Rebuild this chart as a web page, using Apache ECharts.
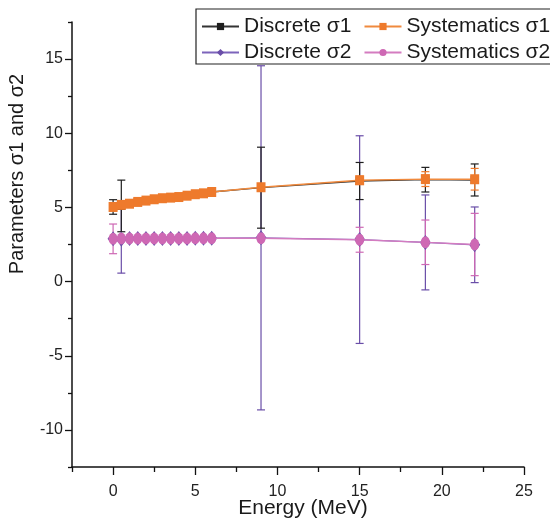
<!DOCTYPE html>
<html>
<head>
<meta charset="utf-8">
<script src="https://cdn.jsdelivr.net/npm/echarts@6/dist/echarts.min.js"></script>
<style>html,body{margin:0;padding:0;background:#fff}#c{width:550px;height:525px}</style>
</head>
<body>
<div id="c"></div>
<script>
const energy = [0, 0.5, 1, 1.5, 2, 2.5, 3, 3.5, 4, 4.5, 5, 5.5, 6, 9, 15, 19, 22];
const discS1 = [5.03, 5.10, 5.25, 5.37, 5.46, 5.55, 5.62, 5.66, 5.70, 5.79, 5.89, 5.95, 6.04, 6.33, 6.78, 6.87, 6.85];
const discS1Err = [0.49, 1.74, 0, 0, 0, 0, 0, 0, 0, 0, 0, 0, 0, 2.73, 1.25, 0.83, 1.08];
const sysS1 = [5.03, 5.17, 5.25, 5.37, 5.46, 5.55, 5.62, 5.66, 5.70, 5.79, 5.89, 5.95, 6.04, 6.36, 6.83, 6.91, 6.90];
const sysS1Err = [0, 0, 0, 0, 0, 0, 0, 0, 0, 0, 0, 0, 0, 0, 0.28, 0.50, 0.73];
const discS2 = [2.88, 2.86, 2.90, 2.90, 2.90, 2.90, 2.90, 2.90, 2.90, 2.91, 2.92, 2.92, 2.92, 2.95, 2.83, 2.64, 2.48];
const discS2Err = [0, 2.29, 0, 0, 0, 0, 0, 0, 0, 0, 0, 0, 0, 11.6, 7.0, 3.2, 2.55];
const sysS2 = [2.88, 2.90, 2.90, 2.90, 2.90, 2.90, 2.90, 2.90, 2.90, 2.91, 2.92, 2.92, 2.92, 2.92, 2.82, 2.65, 2.50];
const sysS2Err = [1.0, 0, 0, 0, 0, 0, 0, 0, 0, 0, 0, 0, 0, 0, 0.84, 1.5, 2.1];
const xMajor = [0, 5, 10, 15, 20, 25];
const xMinor = [-2.5, 2.5, 7.5, 12.5, 17.5, 22.5];
const yMajor = [-10, -5, 0, 5, 10, 15];
const yMinor = [-12.5, -7.5, -2.5, 2.5, 7.5, 12.5, 17.5];
const names = ['Discrete σ1', 'Systematics σ1', 'Discrete σ2', 'Systematics σ2'];

const FONT = 'Liberation Sans, Arial, Helvetica, sans-serif';
const cBlack = '#1e1e1e', cOrange = '#EE7A2C', cPurple = '#6A4EA8', cPink = '#CE68B4';

function pts(ys) { return energy.map((x, i) => [x, ys[i]]); }
function errSeries(ys, es, color, z) {
  return {
    type: 'custom', z: z, silent: true,
    xAxisIndex: 0, yAxisIndex: 0,
    encode: { x: 0, y: 1 },
    data: energy.map((x, i) => [x, ys[i], es[i]]),
    renderItem: function (params, api) {
      const x = api.value(0), y = api.value(1), e = api.value(2);
      if (!e) return null;
      const t = api.coord([x, y + e]), b = api.coord([x, y - e]);
      const w = 4, st = { stroke: color, lineWidth: 1.2 };
      return { type: 'group', children: [
        { type: 'line', shape: { x1: t[0], y1: t[1], x2: b[0], y2: b[1] }, style: st },
        { type: 'line', shape: { x1: t[0] - w, y1: t[1], x2: t[0] + w, y2: t[1] }, style: st },
        { type: 'line', shape: { x1: b[0] - w, y1: b[1], x2: b[0] + w, y2: b[1] }, style: st }
      ] };
    }
  };
}
function lineSeries(name, ys, color, lineColor, symbol, size, z) {
  return {
    name: name, type: 'line', z: z, xAxisIndex: 0, yAxisIndex: 0,
    data: pts(ys), symbol: symbol, symbolSize: size, showAllSymbol: true,
    itemStyle: { color: color },
    lineStyle: { color: lineColor, width: 1.3 },
    emphasis: { disabled: true }, animation: false
  };
}
function legendRow(items, top) {
  return {
    data: items, left: 196, top: top, width: 420,
    orient: 'horizontal',
    itemWidth: 37, itemHeight: 9, itemGap: 12,
    padding: [0, 0, 0, 5],
    z: 20, selectedMode: false,
    textStyle: { fontSize: 21, color: '#1a1a1a', fontFamily: FONT }
  };
}

const axisCommon = { type: 'value', splitLine: { show: false } };
const chart = echarts.init(document.getElementById('c'), null, { renderer: 'canvas' });
chart.setOption({
  animation: false,
  backgroundColor: '#fff',
  grid: { left: 72, top: 22, right: 26, bottom: 58, containLabel: false },
  xAxis: [
    Object.assign({}, axisCommon, {
      min: -2.5, max: 25, position: 'bottom',
      axisLine: { show: true, onZero: false, lineStyle: { color: '#111', width: 1.5 } },
      axisTick: { show: true, customValues: xMajor, length: 8, lineStyle: { color: '#111', width: 1.3 } },
      axisLabel: { customValues: xMajor, margin: 17, fontSize: 16, color: '#222', fontFamily: FONT }
    }),
    Object.assign({}, axisCommon, {
      min: -2.5, max: 25, position: 'bottom', offset: 0,
      axisLine: { show: false, onZero: false },
      axisTick: { show: true, customValues: xMinor, length: 5, lineStyle: { color: '#111', width: 1.3 } },
      axisLabel: { show: false }
    })
  ],
  yAxis: [
    Object.assign({}, axisCommon, {
      min: -12.5, max: 17.5, position: 'left',
      axisLine: { show: true, onZero: false, lineStyle: { color: '#111', width: 1.5 } },
      axisTick: { show: true, customValues: yMajor, length: 7, lineStyle: { color: '#111', width: 1.3 } },
      axisLabel: { customValues: yMajor, margin: 9, fontSize: 16, color: '#222', fontFamily: FONT }
    }),
    Object.assign({}, axisCommon, {
      min: -12.5, max: 17.5, position: 'left', offset: 0,
      axisLine: { show: false, onZero: false },
      axisTick: { show: true, customValues: yMinor, length: 4, lineStyle: { color: '#111', width: 1.3 } },
      axisLabel: { show: false }
    })
  ],
  legend: [
    legendRow([names[0], names[1]], 16),
    legendRow([names[2], names[3]], 42)
  ],
  graphic: [
    { type: 'rect', z: 15, shape: { x: 196, y: 9, width: 380, height: 55 },
      style: { fill: '#fff', stroke: '#222', lineWidth: 1.2 } },
    { type: 'text', x: 17, y: 174, rotation: Math.PI / 2, z: 30,
      style: { text: 'Parameters σ1 and σ2', fontSize: 20, fontFamily: FONT, fill: '#1a1a1a', align: 'center', verticalAlign: 'middle' } },
    { type: 'text', x: 303, y: 508, z: 30,
      style: { text: 'Energy (MeV)', fontSize: 21, fontFamily: FONT, fill: '#1a1a1a', align: 'center', verticalAlign: 'middle' } }
  ],
  series: [
    errSeries(discS2, discS2Err, cPurple, 1),
    errSeries(discS1, discS1Err, cBlack, 2),
    errSeries(sysS2, sysS2Err, cPink, 3),
    errSeries(sysS1, sysS1Err, cOrange, 4),
    lineSeries(names[0], discS1, cBlack, '#333', 'rect', [8, 8], 5),
    lineSeries(names[2], discS2, cPurple, '#7d64bb', 'diamond', [11, 15], 6),
    lineSeries(names[1], sysS1, cOrange, '#F08A3E', 'rect', [9, 10], 7),
    lineSeries(names[3], sysS2, cPink, '#D47CC0', 'circle', [9, 12], 8)
  ]
});
</script>
</body>
</html>
